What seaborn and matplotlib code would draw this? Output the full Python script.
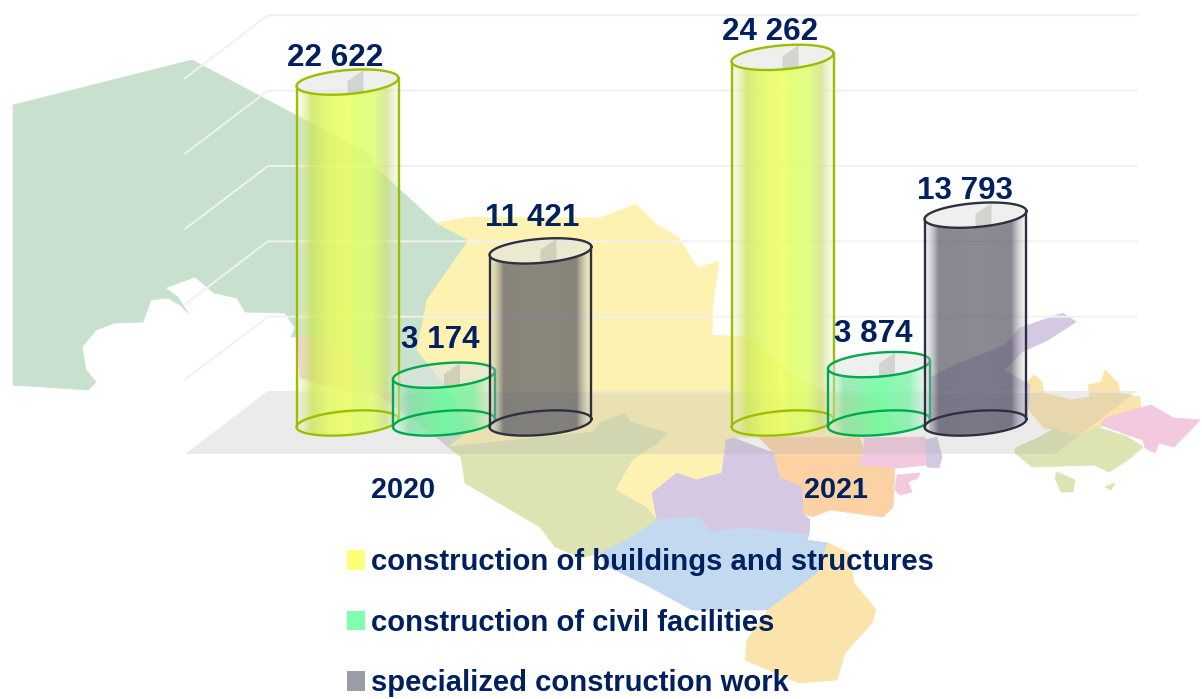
import numpy as np
import pandas as pd
import matplotlib
matplotlib.use("Agg")
import matplotlib.pyplot as plt
from matplotlib.patches import Polygon, PathPatch, Patch
from matplotlib.path import Path
import seaborn as sns

years = ["2020", "2021"]
work_types = ["construction of buildings and structures",
              "construction of civil facilities",
              "specialized construction work"]
buildings = [22622, 24262]
civil = [3174, 3874]
specialized = [11421, 13793]
grid_values = [0, 5000, 10000, 15000, 20000, 25000]

legend_colors = ["#FFFF77", "#7FFFB0", "#9A9CA8"]
line_colors = ["#9CBE00", "#00A84F", "#2E3040"]
text_color = "#002060"

############################################
# scale of the picture
############################################

W, H = 1202, 699
PX_PER_VALUE = 0.01507
PX_PER_YEAR = 435.0
X0_PX, Y0_PX = 444.0, 423.0     # where year 2020 / value 0 sit
HALF_W = 51.0
HALF_H = 12.0
TILT = 4.0

kx = 1 / PX_PER_YEAR
ky = 1 / PX_PER_VALUE

# (t across the cylinder, r, g, b, alpha)
gradients = [
    [(0, 235, 240, 190, .3), (.14, 205, 230, 90, .8), (.3, 225, 250, 95, .85),
     (.5, 240, 255, 95, .85), (.56, 225, 255, 100, .85), (.75, 222, 255, 110, .85),
     (.88, 205, 225, 120, .72), (1, 235, 235, 210, .3)],
    [(0, 210, 240, 220, .35), (.15, 130, 225, 165, .75), (.5, 100, 255, 155, .82),
     (.8, 120, 240, 165, .75), (1, 215, 235, 225, .35)],
    [(0, 215, 218, 218, .25), (.14, 85, 85, 98, .7), (.5, 88, 88, 102, .7),
     (.86, 85, 85, 98, .7), (1, 215, 218, 218, .25)],
]

# label offsets from the top of each cylinder, pixels
label_dx = [[-12, -12], [-4, -6], [-8, -11]]
label_dy = [[24, 25], [35, 31], [33, 24]]
year_dx = [-41, -43]

############################################
# background map, pixel coordinates
############################################

map_shapes = [
    ("#C8E1CF", [(13, 105), (192, 60), (371, 155), (373, 165), (436, 223), (469, 240), (427, 300),
                 (417, 350), (445, 385), (470, 430), (448, 447), (443, 440), (390, 395), (340, 345),
                 (322, 336), (291, 337), (295, 328), (285, 313), (245, 312), (237, 298), (214, 293),
                 (195, 277), (165, 288), (178, 297), (188, 313), (180, 305), (168, 298), (151, 300),
                 (143, 322), (115, 323), (96, 330), (82, 347), (86, 370), (96, 382), (88, 390), (13, 385)]),
    ("#F2C9DF", [(297, 336), (322, 336), (340, 345), (390, 395), (443, 440), (448, 447), (440, 440),
                 (380, 395), (340, 390), (300, 378)]),
    ("#FDF2B2", [(436, 223), (469, 217), (600, 218), (636, 204), (657, 225), (678, 237), (698, 268),
                 (719, 261), (713, 305), (712, 335), (747, 337), (800, 380), (835, 395), (860, 395),
                 (880, 400), (900, 430), (860, 438), (759, 437), (734, 438), (726, 440), (722, 473),
                 (696, 480), (677, 473), (652, 493), (657, 520), (646, 507), (615, 490), (632, 460),
                 (657, 443), (667, 433), (630, 422), (625, 413), (600, 423), (593, 432), (448, 447),
                 (470, 430), (445, 385), (417, 350), (427, 300), (469, 240)]),
    ("#DDE3B2", [(448, 447), (593, 432), (600, 423), (625, 413), (630, 422), (667, 433), (657, 443),
                 (632, 460), (615, 490), (646, 507), (657, 520), (632, 537), (600, 553), (582, 558),
                 (555, 547), (540, 527), (465, 483), (461, 457)]),
    ("#D5C8E2", [(652, 493), (677, 473), (696, 480), (722, 473), (726, 440), (734, 438), (757, 447),
                 (774, 453), (780, 477), (803, 487), (803, 513), (810, 520), (809, 535), (780, 532),
                 (745, 528), (711, 532), (698, 517), (657, 520)]),
    ("#FCD2A5", [(759, 437), (860, 438), (864, 450), (858, 465), (895, 465), (893, 507), (883, 517),
                 (830, 510), (812, 517), (803, 513), (803, 487), (780, 477), (774, 453)]),
    ("#F2C9DF", [(864, 438), (925, 437), (927, 465), (898, 468), (858, 465), (864, 450)]),
    ("#D5C8E2", [(925, 440), (937, 437), (942, 457), (939, 468), (927, 467)]),
    ("#F2C9DF", [(897, 475), (920, 473), (918, 478), (908, 482), (912, 492), (900, 495), (895, 490)]),
    ("#C2D9EF", [(632, 537), (657, 520), (698, 517), (711, 532), (745, 528), (780, 532), (809, 535),
                 (807, 540), (828, 543), (818, 573), (791, 593), (768, 610), (692, 610), (650, 587),
                 (605, 565), (600, 553)]),
    ("#FBE4AB", [(828, 543), (849, 553), (854, 583), (876, 610), (872, 623), (845, 653), (837, 680),
                 (799, 683), (745, 660), (747, 640), (768, 610), (791, 593), (818, 573)]),
    ("#FBE4AB", [(1027, 382), (1034, 375), (1042, 382), (1044, 393), (1071, 400), (1090, 397), (1088, 385),
                 (1101, 382), (1105, 370), (1118, 383), (1120, 393), (1140, 397), (1141, 410), (1101, 427),
                 (1076, 437), (1063, 430), (1044, 428), (1029, 410)]),
    ("#DDE3B2", [(1055, 428), (1076, 437), (1097, 427), (1128, 437), (1143, 447), (1128, 460), (1109, 472),
                 (1094, 465), (1032, 467), (1015, 453), (1015, 448), (1040, 437)]),
    ("#F2C9DF", [(1101, 425), (1105, 418), (1151, 405), (1174, 418), (1200, 420), (1186, 435), (1174, 447),
                 (1159, 443), (1155, 453), (1145, 448), (1143, 440), (1128, 435)]),
    ("#DDE3B2", [(1057, 472), (1075, 480), (1073, 492), (1061, 492), (1055, 478)]),
    ("#DDE3B2", [(1105, 487), (1115, 483), (1111, 490)]),
    ("#D5C8E2", [(930, 378), (955, 365), (1005, 345), (1020, 328), (1063, 313), (1076, 322), (1048, 340),
                 (1022, 352), (1004, 370), (1030, 385), (1027, 420), (1000, 430), (950, 435), (930, 430)]),
]

############################################
# data frame
############################################

df = pd.DataFrame({
    "year": years * 3,
    "kind": [k for k in work_types for _ in years],
    "value": buildings + civil + specialized,
})

sns.set_theme(style="white")
plt.rcParams["font.family"] = ["Liberation Sans", "DejaVu Sans"]

fig = plt.figure(figsize=(W / 100, H / 100), dpi=100)
fig.patch.set_facecolor("white")

# background axes in pixels
ax_bg = fig.add_axes([0, 0, 1, 1], zorder=0)
ax_bg.set_xlim(0, W)
ax_bg.set_ylim(H, 0)
ax_bg.axis("off")

for color, pts in map_shapes:
    ax_bg.add_patch(Polygon(pts, closed=True, facecolor=color, edgecolor=color, lw=0.5, zorder=1))

ax_bg.add_patch(Polygon([(185, 454), (268, 391), (1137, 391), (1055, 454)], closed=True,
                        facecolor="#B0B0B0", alpha=0.25, edgecolor="none", zorder=2))

for v in grid_values[1:]:
    y = 392 - v * PX_PER_VALUE
    ax_bg.plot([185, 268, 1137], [y + 63, y, y], color="#F1F1F1", lw=1.4, zorder=3)
ax_bg.plot([268, 1137], [392, 392], color="#EFEFEF", lw=1.2, alpha=0.6, zorder=3)

# chart axes over the whole figure, value 0 and the two years land on the pixels above
ax = fig.add_axes([0, 0, 1, 1], zorder=1)
sns.barplot(data=df, x="year", y="value", hue="kind", hue_order=work_types,
            palette=legend_colors, width=0.6655, gap=0, legend=False, ax=ax)
xlim = (-X0_PX * kx, (W - X0_PX) * kx)
ylim = ((Y0_PX - H) * ky, Y0_PX * ky)


def ellipse_pts(cx, val, t):
    px = HALF_W * np.cos(t)
    py = HALF_H * np.sin(t) + TILT * np.cos(t)
    return np.column_stack([cx + px * kx, val + py * ky])


def make_gradient(stops):
    stops = np.array(stops, dtype=float)
    t = np.linspace(0, 1, 102)
    rgba = np.column_stack([np.interp(t, stops[:, 0], stops[:, i]) for i in range(1, 5)])
    rgba[:, :3] /= 255
    return rgba[np.newaxis, :, :]


z = 5
for k, container in enumerate(ax.containers):
    for j, bar in enumerate(container):
        bar.set_alpha(0)
        cx = bar.get_x() + bar.get_width() / 2
        val = bar.get_height()
        line = line_colors[k]

        lower = ellipse_pts(cx, 0, np.linspace(np.pi, 2 * np.pi, 60))
        front = ellipse_pts(cx, val, np.linspace(2 * np.pi, np.pi, 60))
        body = np.vstack([lower, front, lower[:1]])
        clip = PathPatch(Path(body), transform=ax.transData, facecolor="none", edgecolor="none")
        ax.add_patch(clip)
        img = ax.imshow(make_gradient(gradients[k]), aspect="auto", zorder=z, interpolation="bilinear",
                        extent=[cx - HALF_W * kx, cx + HALF_W * kx, -20 * ky, val + 20 * ky])
        img.set_clip_path(clip)

        # bottom ring and the sides
        ring = ellipse_pts(cx, 0, np.linspace(0, 2 * np.pi, 120))
        ax.plot(ring[:, 0], ring[:, 1], color=line, lw=1.7, zorder=z + 1)
        top = ellipse_pts(cx, val, np.linspace(0, 2 * np.pi, 120))
        for s in (0, 60):
            ax.plot([ring[s, 0], top[s, 0]], [ring[s, 1], top[s, 1]], color=line, lw=1.7, zorder=z + 1)

        # open top with its small shaded notch
        lid = PathPatch(Path(top), facecolor=(225 / 255, 230 / 255, 225 / 255, 0.6), edgecolor="none", zorder=z + 1)
        ax.add_patch(lid)
        notch = Polygon([(cx, val + 1 * ky), (cx + 16 * kx, val + 12 * ky),
                         (cx + 16 * kx, val - 14 * ky), (cx, val - 14 * ky)], closed=True,
                        facecolor=(0.55, 0.55, 0.52, 0.28), edgecolor="none", zorder=z + 2)
        ax.add_patch(notch)
        notch.set_clip_path(lid)
        ax.plot(top[:, 0], top[:, 1], color=line, lw=1.7, zorder=z + 3)

        ax.annotate(f"{int(val):,}".replace(",", " "), xy=(cx, val),
                    xytext=(label_dx[k][j], label_dy[k][j]), textcoords="offset pixels",
                    ha="center", va="center", fontsize=22.6, fontweight="bold",
                    color=text_color, zorder=60)
        z += 5

for i, year in enumerate(years):
    ax.annotate(year, xy=(i, 0), xytext=(year_dx[i], -67), textcoords="offset pixels",
                ha="center", va="center", fontsize=20.7, fontweight="bold",
                color=text_color, zorder=60)

handles = [Patch(facecolor=c, edgecolor="none") for c in legend_colors]
ax.legend(handles, work_types, loc="upper left", bbox_to_anchor=(347 / W, 1 - 548 / H),
          bbox_transform=fig.transFigure, frameon=False, borderpad=0, borderaxespad=0,
          handlelength=0.62, handleheight=0.66, handletextpad=0.21, labelspacing=1.12,
          prop={"size": 21.05, "weight": "bold"}, labelcolor=text_color)

ax.set_xlim(xlim)
ax.set_ylim(ylim)
ax.patch.set_alpha(0)
ax.axis("off")

plt.savefig("out.png", dpi=100)
plt.close()
